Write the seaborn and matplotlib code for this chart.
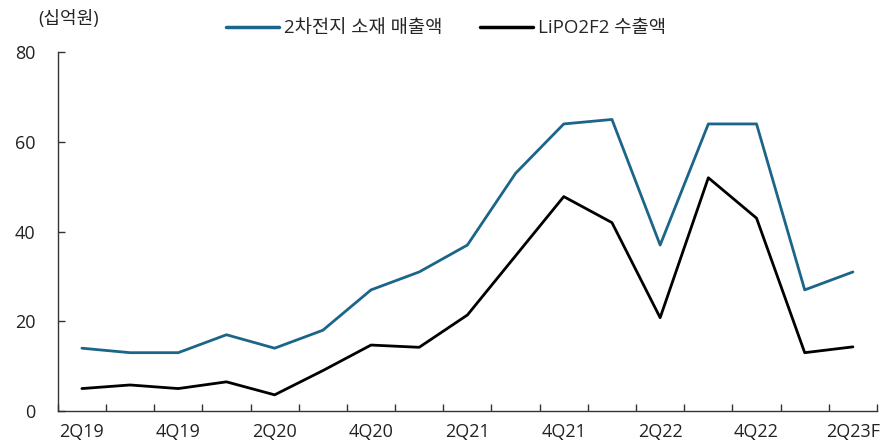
import numpy as np
import pandas as pd
import matplotlib
matplotlib.use("Agg")
import matplotlib.pyplot as plt
from matplotlib.ticker import FixedLocator
import seaborn as sns

# 데이터
quarters = ["2Q19", "3Q19", "4Q19", "1Q20", "2Q20", "3Q20", "4Q20", "1Q21", "2Q21",
            "3Q21", "4Q21", "1Q22", "2Q22", "3Q22", "4Q22", "1Q23", "2Q23F"]
sales = [14, 13, 13, 17, 14, 18, 27, 31, 37, 53, 64, 65, 37, 64, 64, 27, 31]
exports = [5, 5.8, 5, 6.5, 3.6, 9, 14.7, 14.2, 21.4, 34.6, 47.8, 42, 20.8, 52, 43, 13, 14.3]
series_names = ["2차전지 소재 매출액", "LiPO2F2 수출액"]
colors = ["#1b6589", "#000000"]

df = pd.DataFrame({
    "x": list(range(len(quarters))) * 2,
    "value": sales + exports,
    "series": [series_names[0]] * len(quarters) + [series_names[1]] * len(quarters),
})

sns.set_theme(style="white")
plt.rcParams["font.family"] = ["Open Sans", "Noto Sans CJK KR", "DejaVu Sans"]

fig = plt.figure(figsize=(8.89, 4.46), dpi=100)
ax = fig.add_axes([0.065, 0.0785, 0.9215, 0.8045])

sns.lineplot(data=df, x="x", y="value", hue="series", palette=colors,
             linewidth=2.0, ax=ax, legend=True)

ax.set_xlim(-0.5, len(quarters) - 0.5)
ax.set_ylim(0, 80)
ax.set_yticks([0, 20, 40, 60, 80])
ax.set_xticks(range(0, len(quarters), 2))
ax.set_xticklabels(quarters[::2])
ax.xaxis.set_minor_locator(FixedLocator(np.arange(-0.5, len(quarters), 1.0)))
ax.tick_params(axis="x", which="major", length=0, pad=9, labelsize=13, colors="#222222")
ax.tick_params(axis="x", which="minor", direction="in", length=5, width=1, color="#333333", bottom=True)
ax.tick_params(axis="y", direction="in", length=5, width=1, color="#333333", left=True,
               pad=16, labelsize=13, labelcolor="#222222")
ax.set_xlabel("")
ax.set_ylabel("")

for s in ["top", "right"]:
    ax.spines[s].set_visible(False)
for s in ["left", "bottom"]:
    ax.spines[s].set_color("#333333")
    ax.spines[s].set_linewidth(1)

fig.text(0.043, 0.957, "(십억원)", fontsize=13, color="#222222", va="center")

leg = ax.legend(loc="center", bbox_to_anchor=(0.474, 1.067),
                ncol=2, frameon=False, fontsize=13.5, handlelength=2.8,
                columnspacing=2.0, handletextpad=0.3)
for h in leg.get_lines():
    h.set_linewidth(2.5)

fig.savefig("out.png", dpi=100)
